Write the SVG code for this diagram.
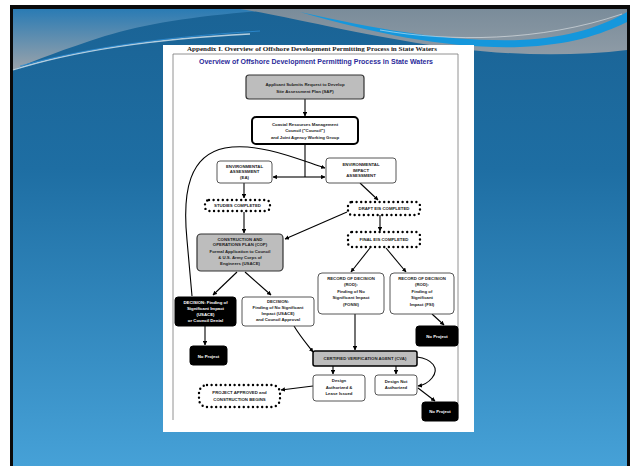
<svg xmlns="http://www.w3.org/2000/svg" width="630" height="466" viewBox="0 0 630 466">
<defs>
<linearGradient id="bg" x1="0" y1="0" x2="0" y2="1">
<stop offset="0" stop-color="#1a6395"/>
<stop offset="0.35" stop-color="#1e6ea3"/>
<stop offset="1" stop-color="#46a1d7"/>
</linearGradient>
<linearGradient id="gl" x1="0" y1="0" x2="0" y2="1">
<stop offset="0" stop-color="#2a7bb4"/>
<stop offset="1" stop-color="#9ba3aa"/>
</linearGradient>
<linearGradient id="gr" x1="0" y1="0" x2="0" y2="1">
<stop offset="0" stop-color="#7a8c9a"/>
<stop offset="1" stop-color="#8e9ba6"/>
</linearGradient>
<marker id="ah" viewBox="0 0 10 10" refX="9" refY="5" markerWidth="4" markerHeight="4" orient="auto">
<path d="M0,0 L10,5 L0,10 Z" fill="#000"/>
</marker>
<style>
.t{font-family:"Liberation Sans",Arial,sans-serif;font-size:4.3px;font-weight:bold;fill:#222;text-anchor:middle}
.w{fill:#fff}
.box{fill:#fff;stroke:#444;stroke-width:0.9}
.grey{fill:#bdbdbd;stroke:#333;stroke-width:1.2}
.blk{fill:#000;stroke:#000;stroke-width:1}
.dot{fill:none;stroke:#000;stroke-width:2.4;stroke-dasharray:0 4.6;stroke-linecap:round}
.c{fill:none;stroke:#000;stroke-width:1.1}
.a{marker-end:url(#ah)}
</style>
</defs>
<rect x="0" y="0" width="630" height="466" fill="#fff"/>
<rect x="10" y="5" width="620" height="461" fill="#0a0a0a"/>
<rect x="13" y="9" width="614" height="457" fill="url(#bg)"/>
<g id="header">
<path d="M13,9 H285 C 210,14 150,22 105,36 C 65,49 35,60 13,70 Z" fill="url(#gl)"/>
<path d="M13,70 C 60,55 130,40 250,34" fill="none" stroke="#dbe8f0" stroke-width="1.3" opacity="0.8"/>
<path d="M20,66 C 80,50 150,38 260,31" fill="none" stroke="#2f8fd6" stroke-width="1" opacity="0.8"/>
<path d="M240,9 H627 V50 C 560,58 480,55 400,40 C 330,28 280,15 240,9 Z" fill="url(#gr)"/>
<path d="M300,12 C 380,30 450,42 520,40 C 570,38 605,25 627,12 V22 C 600,35 570,45 520,47 C 450,49 380,35 300,12 Z" fill="#1597dc"/>
<path d="M380,30 C 450,42 540,42 622,14" fill="none" stroke="#fff" stroke-width="0.8" opacity="0.6"/>
</g>
<g id="page">
<rect x="163" y="45" width="311" height="387" fill="#fff"/>
<path d="M173,420 V54 H458 V420" fill="none" stroke="#777" stroke-width="0.8"/>
<text x="312" y="51" font-family="Liberation Serif,serif" font-weight="bold" font-size="6.5" fill="#222" text-anchor="middle" textLength="250" lengthAdjust="spacingAndGlyphs">Appendix I. Overview of Offshore Development Permitting Process in State Waters</text>
<text x="316" y="64" font-family="Liberation Sans,Arial,sans-serif" font-weight="bold" font-size="6.3" fill="#2a2a9a" text-anchor="middle" textLength="234" lengthAdjust="spacingAndGlyphs">Overview of Offshore Development Permitting Process in State Waters</text>
</g>
<g id="connectors">
<line class="c a" x1="305" y1="99" x2="305" y2="116"/>
<line class="c" x1="305" y1="144" x2="305" y2="177"/>
<line class="c a" x1="305" y1="177" x2="273" y2="177"/>
<line class="c a" x1="305" y1="177" x2="325" y2="177"/>
<path class="c a" d="M192,296 L187,240 C 182,190 190,155 225,148 C 260,142 300,160 325,168" stroke-width="1.3"/>
<line class="c a" x1="244" y1="183" x2="244" y2="198"/>
<line class="c a" x1="360" y1="183" x2="378" y2="200"/>
<line class="c a" x1="380" y1="215" x2="380" y2="231"/>
<line class="c a" x1="244" y1="212" x2="244" y2="233"/>
<line class="c a" x1="347" y1="212" x2="285" y2="239"/>
<line class="c a" x1="237" y1="272" x2="213" y2="295"/>
<line class="c a" x1="245" y1="272" x2="271" y2="295"/>
<line class="c a" x1="370" y1="248" x2="351" y2="272"/>
<line class="c a" x1="386" y1="248" x2="406" y2="272"/>
<line class="c a" x1="205" y1="326" x2="205" y2="345"/>
<line class="c a" x1="432" y1="314" x2="444" y2="325"/>
<line class="c a" x1="355" y1="314" x2="355" y2="350"/>
<path class="c a" d="M294,326 C 300,336 306,343 313,352"/>
<line class="c a" x1="333" y1="366" x2="333" y2="374"/>
<line class="c a" x1="396" y1="366" x2="396" y2="374"/>
<path class="c a" d="M417,357 C 432,359 440,368 432,378 C 428,383 424,385 418,386"/>
<line class="c a" x1="418" y1="388" x2="435" y2="401"/>
<line class="c a" x1="313" y1="386" x2="281" y2="390"/>
</g>
<g id="sap">
<rect class="grey" x="246" y="75" width="118" height="24" rx="3"/>
<text class="t" x="305" y="85.5" font-size="5.3">Applicant Submits Request to Develop</text>
<text class="t" x="305" y="93" font-size="5.3">Site Assessment Plan (SAP)</text>
</g>
<g id="council">
<rect x="252" y="117" width="106" height="27" rx="4" fill="#fff" stroke="#000" stroke-width="2"/>
<text class="t" x="305" y="126">Coastal Resources Management</text>
<text class="t" x="305" y="132">Council ("Council")</text>
<text class="t" x="305" y="138.5">and Joint Agency Working Group</text>
</g>
<g id="ea">
<rect class="box" x="217" y="161" width="55" height="22" rx="3"/>
<text class="t" x="244.5" y="167.5" font-size="3.8">ENVIRONMENTAL</text>
<text class="t" x="244.5" y="173" font-size="3.8">ASSESSMENT</text>
<text class="t" x="244.5" y="179" font-size="3.8">(EA)</text>
</g>
<g id="eia">
<rect class="box" x="326" y="158" width="70" height="25" rx="3"/>
<text class="t" x="361" y="166" font-size="3.8">ENVIRONMENTAL</text>
<text class="t" x="361" y="171.5" font-size="3.8">IMPACT</text>
<text class="t" x="361" y="177" font-size="3.8">ASSESSMENT</text>
</g>
<g id="studies">
<rect class="dot" x="205" y="200" width="65" height="11" rx="4"/>
<text class="t" x="237.5" y="207.3" font-size="3.8">STUDIES COMPLETED</text>
</g>
<g id="draft">
<rect class="dot" x="348" y="202" width="72" height="13" rx="4"/>
<text class="t" x="384" y="210.3" font-size="3.8">DRAFT EIS COMPLETED</text>
</g>
<g id="final">
<rect class="dot" x="348" y="232" width="72" height="15" rx="4"/>
<text class="t" x="384" y="241" font-size="3.8">FINAL EIS COMPLETED</text>
</g>
<g id="cop">
<rect class="grey" x="197" y="234" width="86" height="37" rx="4"/>
<text class="t" x="240" y="240.5" font-size="3.9">CONSTRUCTION AND</text>
<text class="t" x="240" y="246" font-size="3.9">OPERATIONS PLAN (COP)</text>
<text class="t" x="240" y="252.5">Formal Application to Council</text>
<text class="t" x="240" y="258.5">&amp; U.S. Army Corps of</text>
<text class="t" x="240" y="264.5">Engineers (USACE)</text>
</g>
<g id="decision-deny">
<rect class="blk" x="175" y="297" width="61" height="29" rx="3"/>
<text class="t w" x="205.5" y="303.5">DECISION: Finding of</text>
<text class="t w" x="205.5" y="309.5">Significant Impact</text>
<text class="t w" x="205.5" y="315.5">(USACE)</text>
<text class="t w" x="205.5" y="321.5">or Council Denial</text>
</g>
<g id="decision-approve">
<rect class="box" x="242" y="297" width="72" height="29" rx="3"/>
<text class="t" x="278" y="303">DECISION:</text>
<text class="t" x="278" y="308.7">Finding of No Significant</text>
<text class="t" x="278" y="314.7">Impact (USACE)</text>
<text class="t" x="278" y="321">and Council Approval</text>
</g>
<g id="rod-fonsi">
<rect class="box" x="318" y="273" width="66" height="41" rx="4"/>
<text class="t" x="351" y="280" font-size="4">RECORD OF DECISION</text>
<text class="t" x="351" y="286.3">(ROD):</text>
<text class="t" x="351" y="292.8">Finding of No</text>
<text class="t" x="351" y="299.2">Significant Impact</text>
<text class="t" x="351" y="305.7">(FONSI)</text>
</g>
<g id="rod-fsi">
<rect class="box" x="390" y="273" width="64" height="41" rx="4"/>
<text class="t" x="422" y="280" font-size="4">RECORD OF DECISION</text>
<text class="t" x="422" y="286.3">(ROD):</text>
<text class="t" x="422" y="292.8">Finding of</text>
<text class="t" x="422" y="299.2">Significant</text>
<text class="t" x="422" y="305.7">Impact (FSI)</text>
</g>
<g id="noproject-1">
<rect class="blk" x="190" y="346" width="37" height="19" rx="3"/>
<text class="t w" x="208.5" y="357.5">No Project</text>
</g>
<g id="noproject-2">
<rect class="blk" x="416" y="326" width="42" height="20" rx="3"/>
<text class="t w" x="437" y="337.8">No Project</text>
</g>
<g id="cva">
<rect x="313" y="351" width="104" height="15" rx="2" fill="#bdbdbd" stroke="#000" stroke-width="1.5"/>
<text class="t" x="365" y="360.3" font-size="3.9">CERTIFIED VERIFICATION AGENT (CVA)</text>
</g>
<g id="design-auth">
<rect class="box" x="313" y="375" width="52" height="26" rx="3"/>
<text class="t" x="339" y="382.3">Design</text>
<text class="t" x="339" y="388.6" font-size="3.8">Authorized &amp;</text>
<text class="t" x="339" y="395">Lease Issued</text>
</g>
<g id="design-not">
<rect class="box" x="375" y="375" width="42" height="20" rx="3"/>
<text class="t" x="396" y="382.8">Design Not</text>
<text class="t" x="396" y="389" font-size="3.6">Authorized</text>
</g>
<g id="noproject-3">
<rect class="blk" x="422" y="402" width="36" height="19" rx="3"/>
<text class="t w" x="440" y="413.3">No Project</text>
</g>
<g id="approved">
<rect class="dot" x="199" y="385" width="81" height="22" rx="8"/>
<text class="t" x="239.5" y="393.8">PROJECT APPROVED and</text>
<text class="t" x="239.5" y="400.5">CONSTRUCTION BEGINS</text>
</g>
</svg>
